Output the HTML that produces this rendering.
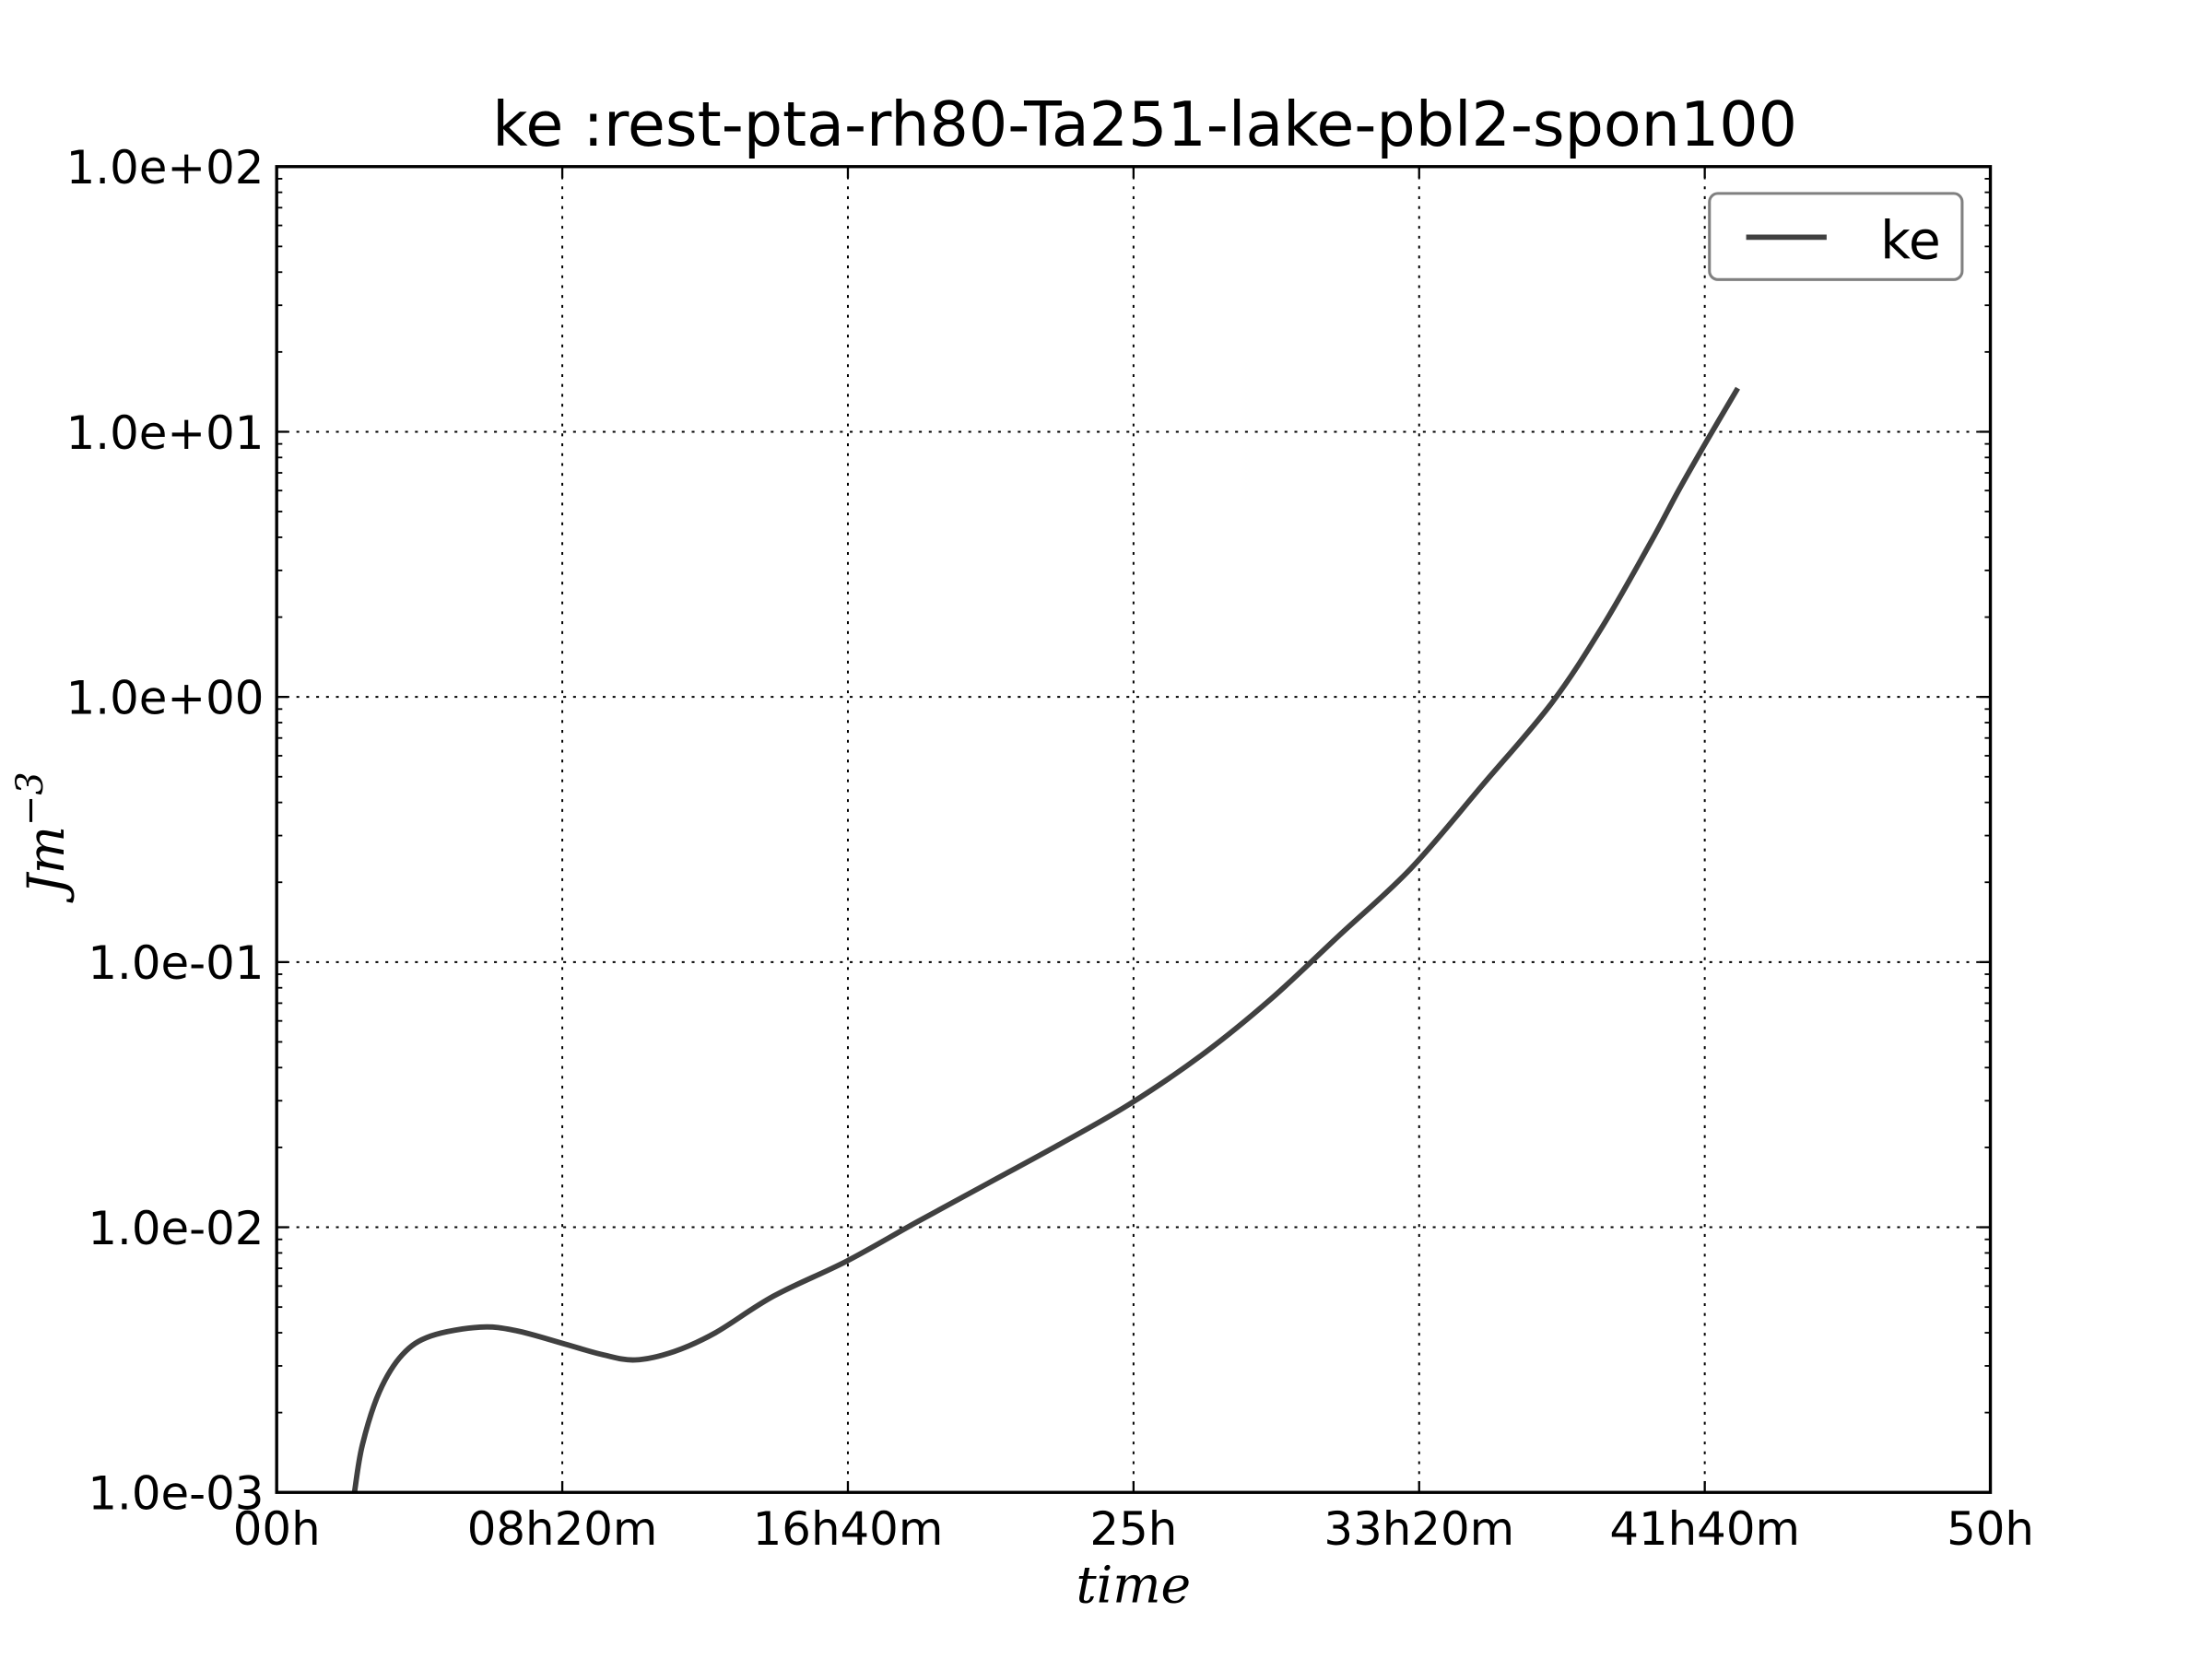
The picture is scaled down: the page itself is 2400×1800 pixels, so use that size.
<!DOCTYPE html>
<html><head><meta charset="utf-8"><style>html,body{margin:0;padding:0;background:#fff}svg{display:block}</style></head>
<body>
<svg id="chart" width="2400" height="1800" viewBox="0 0 1567 1175" preserveAspectRatio="none" xmlns="http://www.w3.org/2000/svg" font-family="'DejaVu Sans','Liberation Sans',sans-serif">
<rect width="1567" height="1175" fill="#fff"/>
<text x="811" y="103" font-size="43.5" text-anchor="middle">ke :rest-pta-rh80-Ta251-lake-pbl2-spon100</text>
<g id="grid"></g><g id="ticks"></g><g id="labels"></g>
<path id="series" fill="none" stroke="#404040" stroke-width="3.8" stroke-linejoin="round"/>
<rect x="196" y="118" width="1214" height="939" fill="none" stroke="#000" stroke-width="2.2"/>
<g>
<rect x="1211" y="137" width="179" height="61" rx="6" fill="#fff" stroke="#808080" stroke-width="2"/>
<line x1="1237" y1="168" x2="1294" y2="168" stroke="#404040" stroke-width="3.8"/>
<text x="1332" y="183" font-size="37">ke</text>
</g>
<text x="803" y="1135" font-size="36" font-style="italic" font-family="'DejaVu Serif','Liberation Serif',serif" text-anchor="middle">time</text>
<text transform="translate(45,590) rotate(-90)" font-size="36" font-style="italic" font-family="'DejaVu Serif','Liberation Serif',serif" text-anchor="middle">Jm<tspan dy="-15" font-size="26">−3</tspan></text>
</svg>
<script>
const times = [2.27,2.5,3,3.67,4.5,5.93,7,8.4,9.5,10.46,11.6,12.8,14.5,16.64,18.7,20.76,22.8,24.88,27,29,31,33.1,35.2,37.2,38.7,40.1,40.9,41.76,42.63];
const keValues = [0.001,0.00151,0.0024,0.00331,0.00389,0.0042,0.00407,0.00363,0.00331,0.00316,0.0034,0.0040,0.0055,0.00746,0.0105,0.01466,0.0204,0.0291,0.0447,0.0724,0.126,0.226,0.468,0.948,1.86,3.85,6.0,9.4,14.6];
const xTickHours = [0,8.3333,16.6667,25,33.3333,41.6667,50];
const xTickLabels = ["00h","08h20m","16h40m","25h","33h20m","41h40m","50h"];
const yTickExps = [-3,-2,-1,0,1,2];
const yTickLabels = ["1.0e-03","1.0e-02","1.0e-01","1.0e+00","1.0e+01","1.0e+02"];
const L=196,R=1410,T=118,B=1057;
const xS=h=>L+(h/50)*(R-L);
const yS=v=>B-(Math.log10(v)+3)/5*(B-T);
const NS="http://www.w3.org/2000/svg";
function mk(p,tag,a){const e=document.createElementNS(NS,tag);for(const k in a)e.setAttribute(k,a[k]);p.appendChild(e);return e;}
const grid=document.getElementById('grid'),ticks=document.getElementById('ticks'),labels=document.getElementById('labels');
xTickHours.forEach((h,i)=>{const x=xS(h);
 if(i>0&&i<xTickHours.length-1){const g=mk(grid,'line',{x1:x,x2:x,y1:T,y2:B,stroke:'#000','stroke-width':1.3,'stroke-dasharray':'2,5'});
 
 }
 mk(ticks,'line',{x1:x,x2:x,y1:B,y2:B-8,stroke:'#000','stroke-width':1.5});
 mk(ticks,'line',{x1:x,x2:x,y1:T,y2:T+8,stroke:'#000','stroke-width':1.5});
 const t=mk(labels,'text',{x:x,y:1094,'font-size':32.5,'text-anchor':'middle'});t.textContent=xTickLabels[i];
 
 
});
yTickExps.forEach((e,i)=>{const y=yS(Math.pow(10,e));
 if(i>0&&i<yTickExps.length-1){const g=mk(grid,'line',{x1:L,x2:R,y1:y,y2:y,stroke:'#000','stroke-width':1.3,'stroke-dasharray':'2,5'});
 
 }
 mk(ticks,'line',{x1:L,x2:L+8,y1:y,y2:y,stroke:'#000','stroke-width':1.5});
 mk(ticks,'line',{x1:R,x2:R-8,y1:y,y2:y,stroke:'#000','stroke-width':1.5});
 const t=mk(labels,'text',{x:187,y:y+12,'font-size':32.5,'text-anchor':'end'});t.textContent=yTickLabels[i];
 
 
 if(e<2)for(let m=2;m<10;m++){const yy=yS(m*Math.pow(10,e));
  mk(ticks,'line',{x1:L,x2:L+4,y1:yy,y2:yy,stroke:'#000','stroke-width':1.2});
  mk(ticks,'line',{x1:R,x2:R-4,y1:yy,y2:yy,stroke:'#000','stroke-width':1.2});}
});
const pts=times.map((t,i)=>[xS(t),yS(keValues[i])]);
let d='M'+pts[0][0]+','+pts[0][1];
for(let i=0;i<pts.length-1;i++){const p0=pts[Math.max(0,i-1)],p1=pts[i],p2=pts[i+1],p3=pts[Math.min(pts.length-1,i+2)];
 d+=' C'+(p1[0]+(p2[0]-p0[0])/6)+','+(p1[1]+(p2[1]-p0[1])/6)+' '+(p2[0]-(p3[0]-p1[0])/6)+','+(p2[1]-(p3[1]-p1[1])/6)+' '+p2[0]+','+p2[1];}
document.getElementById('series').setAttribute('d',d);
</script>
</body></html>
